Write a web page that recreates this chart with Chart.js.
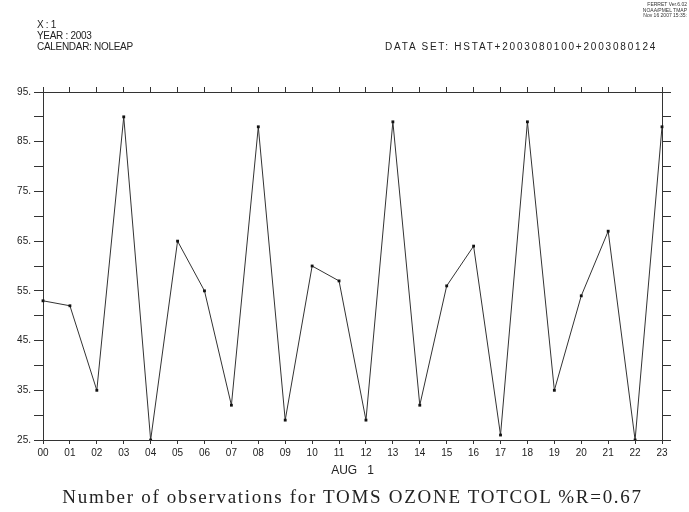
<!DOCTYPE html>
<html>
<head>
<meta charset="utf-8">
<script src="https://cdn.jsdelivr.net/npm/chart.js@4/dist/chart.umd.min.js"></script>
<style>
  html, body { margin: 0; padding: 0; background: #fff; }
  #wrap { position: relative; width: 689px; height: 512px; }
  #plot { position: absolute; left: 0; top: 0; }
  .hdr { position: absolute; font-family: "Liberation Sans", sans-serif; font-size: 10px; color: #222; white-space: nowrap; line-height: 11px; letter-spacing: -0.3px; }
  #ferret { position: absolute; right: 2px; top: 2px; font-family: "Liberation Sans", sans-serif; font-size: 5px; line-height: 5.5px; text-align: right; color: #333; }
  #title { position: absolute; left: 8px; width: 689px; top: 486px; text-align: center; font-family: "Liberation Serif", serif; font-size: 19px; letter-spacing: 1.7px; color: #222; white-space: nowrap; }
</style>
</head>
<body>
<div id="wrap">
  <canvas id="plot" width="689" height="512"></canvas>
  <div class="hdr" style="left:37px; top:19px;">X : 1</div>
  <div class="hdr" style="left:37px; top:30px;">YEAR : 2003</div>
  <div class="hdr" style="left:37px; top:41px;">CALENDAR: NOLEAP</div>
  <div class="hdr" style="left:385px; top:41px; letter-spacing:1.8px;">DATA SET: HSTAT+2003080100+2003080124</div>
  <div id="ferret">FERRET Ver.6.02<br>NOAA/PMEL TMAP<br>Nov 16 2007 15:35:</div>
  <div id="title">Number of observations for TOMS OZONE TOTCOL %R=0.67</div>
</div>
<script>
  // hours of AUG 1, 2003
  const hours = ['00','01','02','03','04','05','06','07','08','09','10','11',
                 '12','13','14','15','16','17','18','19','20','21','22','23'];
  // number of observations per hour
  const obsCount = [53, 52, 35, 90, 25, 65, 55, 32, 88, 29, 60, 57,
                    29, 89, 32, 56, 64, 26, 89, 35, 54, 67, 25, 88];
  const yMin = 25, yMax = 95, yStep = 5;
  const yLabelled = [25, 35, 45, 55, 65, 75, 85, 95];
  const axisTitle = 'AUG   1';

  const ink = '#333';
  const tickFont = { family: '"Liberation Sans", sans-serif', size: 10 };

  const yTicks = {
    stepSize: yStep,
    color: '#222',
    font: tickFont,
    padding: 3,
    autoSkip: false,
    callback: v => yLabelled.includes(v) ? v + '.' : ''
  };

  new Chart(document.getElementById('plot'), {
    type: 'line',
    data: {
      labels: hours,
      datasets: [{
        data: obsCount,
        borderColor: ink,
        borderWidth: 1,
        pointStyle: 'rect',
        pointRadius: 2,
        pointBackgroundColor: '#111',
        pointBorderColor: '#111',
        pointBorderWidth: 0,
        tension: 0,
        xAxisID: 'x',
        yAxisID: 'y'
      }]
    },
    options: {
      responsive: false,
      animation: false,
      devicePixelRatio: 1,
      layout: { padding: { left: 0, right: 0, top: 0, bottom: 34 } },
      plugins: { legend: { display: false }, tooltip: { enabled: false } },
      scales: {
        x: {
          type: 'category',
          position: 'bottom',
          offset: false,
          grid: { drawOnChartArea: false, tickLength: 4, color: ink },
          border: { color: ink, width: 1 },
          ticks: { color: '#222', font: tickFont, padding: 3, maxRotation: 0, autoSkip: false },
          title: { display: true, text: axisTitle, color: '#222',
                   font: { family: '"Liberation Sans", sans-serif', size: 12 }, padding: 0 },
          afterFit: s => { s.height = 38; }
        },
        xTop: {
          type: 'category',
          position: 'top',
          offset: false,
          labels: hours,
          grid: { drawOnChartArea: false, tickLength: 5, color: ink },
          border: { color: ink, width: 1 },
          ticks: { display: false },
          afterFit: s => { s.height = 92; }
        },
        y: {
          type: 'linear',
          position: 'left',
          min: yMin, max: yMax,
          grid: { drawOnChartArea: false, tickLength: 9, color: ink },
          border: { color: ink, width: 1 },
          ticks: yTicks,
          afterFit: s => { s.width = 43; }
        },
        yRight: {
          type: 'linear',
          position: 'right',
          min: yMin, max: yMax,
          grid: { drawOnChartArea: false, tickLength: 9, color: ink },
          border: { color: ink, width: 1 },
          ticks: { display: false, stepSize: yStep },
          afterFit: s => { s.width = 27; }
        }
      }
    }
  });
</script>
</body>
</html>
